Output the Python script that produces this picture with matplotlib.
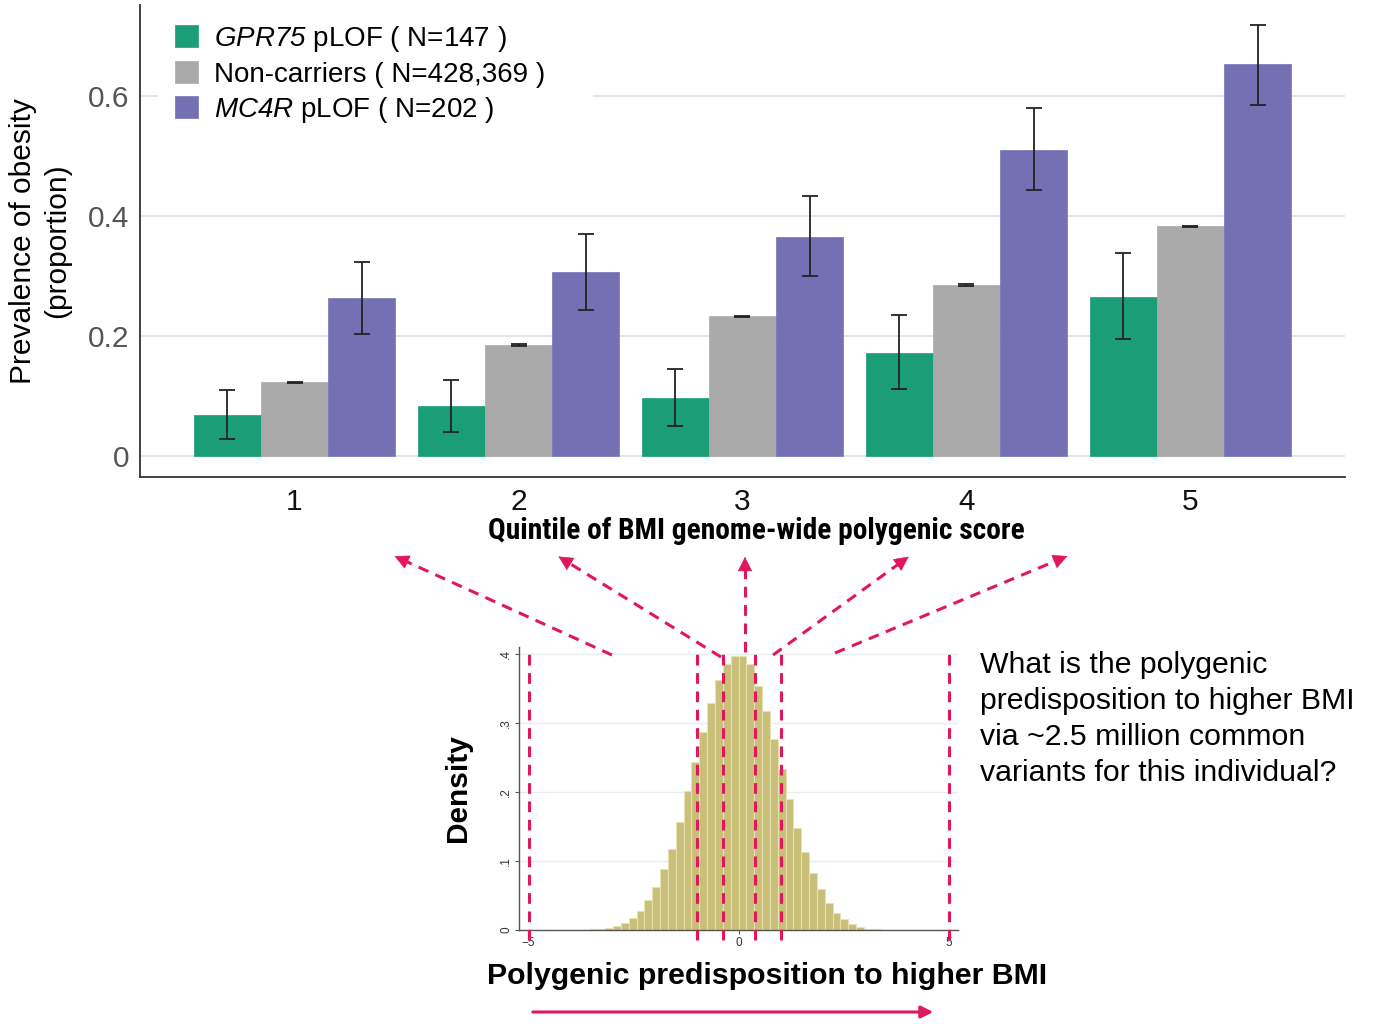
import numpy as np
import matplotlib
matplotlib.use("Agg")
import matplotlib.pyplot as plt
from matplotlib import font_manager
from matplotlib.font_manager import FontProperties
from matplotlib.lines import Line2D
from matplotlib.patches import FancyArrowPatch, Rectangle

plt.rcParams['font.family'] = ['Liberation Sans', 'DejaVu Sans']
plt.rcParams['mathtext.fontset'] = 'custom'
plt.rcParams['mathtext.rm'] = 'Liberation Sans'
# sf slot used for italic gene names so digits stay italic too
plt.rcParams['mathtext.sf'] = 'Liberation Sans:italic'

# quintile bar chart data
quintiles = [1, 2, 3, 4, 5]
gpr75 = [0.068, 0.083, 0.097, 0.172, 0.265]
gpr75_lo = [0.028, 0.040, 0.050, 0.112, 0.195]
gpr75_hi = [0.110, 0.127, 0.145, 0.235, 0.338]
noncarrier = [0.123, 0.185, 0.233, 0.285, 0.383]
noncarrier_lo = [0.122, 0.184, 0.232, 0.284, 0.382]
noncarrier_hi = [0.124, 0.186, 0.234, 0.286, 0.384]
mc4r = [0.263, 0.307, 0.365, 0.510, 0.653]
mc4r_lo = [0.203, 0.243, 0.300, 0.443, 0.585]
mc4r_hi = [0.323, 0.370, 0.433, 0.580, 0.718]
series_labels = [r"$\mathsf{GPR75}$ pLOF ( N=147 )",
                 "Non-carriers ( N=428,369 )",
                 r"$\mathsf{MC4R}$ pLOF ( N=202 )"]
series_colors = ["#1b9e77", "#aaaaaa", "#7570b3"]

# PRS histogram (density per bin)
bin_width = 0.186
first_edge = -19 * 0.186
density = [0.001, 0.0019, 0.0034, 0.0058, 0.0097, 0.017, 0.028, 0.043, 0.063,
           0.089, 0.118, 0.157, 0.202, 0.244, 0.287, 0.329, 0.362, 0.385, 0.397,
           0.397, 0.386, 0.353, 0.318, 0.277, 0.233, 0.190, 0.148, 0.113, 0.082,
           0.060, 0.039, 0.025, 0.016, 0.0092, 0.0048, 0.0019, 0.001, 0.0005]
cut_lines = [-4.98, -0.99, -0.37, 0.40, 1.01, 5.0]

W, H = 1373, 1024
fig = plt.figure(figsize=(W / 100, H / 100), dpi=100)


def fx(px):
    return px / W


def fy(py):
    return 1 - py / H


def narrow_bold():
    # look for a condensed/narrow bold face among installed fonts
    files = [f for f in font_manager.fontManager.ttflist]
    prefs = ['LiberationSansNarrow-Bold', 'ArialNarrow', 'RobotoCondensed-Bold',
             'OpenSans_Condensed-Bold', 'OpenSansCondensed-Bold',
             'NotoSans-CondensedBold', 'DejaVuSansCondensed-Bold']
    for p in prefs:
        for f in files:
            if p.lower() in f.fname.lower().replace(' ', ''):
                return FontProperties(fname=f.fname)
    for f in files:
        n = f.fname.lower()
        if ('condensed' in n or 'narrow' in n) and 'bold' in n and 'extra' not in n \
                and 'semi' not in n and 'italic' not in n:
            return FontProperties(fname=f.fname)
    return FontProperties(family='Liberation Sans', weight='bold')


# ---- top bar chart ----
ax = fig.add_axes([fx(140), fy(477), fx(1345) - fx(140), fy(5) - fy(477)])
x = np.array(quintiles, dtype=float)
bw = 0.3
groups = [(gpr75, gpr75_lo, gpr75_hi), (noncarrier, noncarrier_lo, noncarrier_hi),
          (mc4r, mc4r_lo, mc4r_hi)]
handles = []
for i, (vals, lo, hi) in enumerate(groups):
    xs = x + (i - 1) * bw
    vals = np.array(vals)
    yerr = [vals - np.array(lo), np.array(hi) - vals]
    b = ax.bar(xs, vals, width=bw, color=series_colors[i], edgecolor=series_colors[i],
               linewidth=0.5, zorder=2, label=series_labels[i])
    ax.errorbar(xs, vals, yerr=yerr, fmt='none', ecolor='#222222', elinewidth=1.3,
                capsize=5.5, capthick=1.3, zorder=3)
    handles.append(b)

ax.set_xlim(0.31, 5.69)
ax.set_ylim(-0.035, 0.752)
ax.set_yticks([0, 0.2, 0.4, 0.6])
ax.set_yticklabels(["0", "0.2", "0.4", "0.6"])
ax.set_xticks(quintiles)
ax.tick_params(axis='y', length=0, labelsize=21.5, labelcolor='#555555', pad=8)
ax.tick_params(axis='x', length=0, labelsize=21.5, labelcolor='#111111', pad=8)
ax.yaxis.grid(True, color='#e0e0e0', linewidth=1.2, zorder=0)
ax.set_axisbelow(True)
for s in ['top', 'right']:
    ax.spines[s].set_visible(False)
for s in ['left', 'bottom']:
    ax.spines[s].set_color('#333333')
    ax.spines[s].set_linewidth(1.3)
ax.set_ylabel("Prevalence of obesity\n(proportion)", fontsize=21.5, labelpad=12,
              linespacing=1.25)

xl_fp = narrow_bold()
xl_fp.set_size(21.5)
xl = fig.text(fx(756), fy(531), "Quintile of BMI genome-wide polygenic score",
              fontproperties=xl_fp, ha='center', va='center')
# fit label to its width in the reference
r = fig.canvas.get_renderer()
wpx = xl.get_window_extent(r).width
xl_fp.set_size(21.5 * 537 / wpx)
xl.set_fontproperties(xl_fp)

# white backing behind the legend that hides the 0.6 gridline
ax.add_artist(Rectangle((fx(158), fy(120)), fx(593) - fx(158), fy(10) - fy(120),
                        transform=fig.transFigure, facecolor='white',
                        edgecolor='none', zorder=4))
leg = ax.legend(handles=handles, loc='upper left', bbox_to_anchor=(fx(169), fy(18)),
                bbox_transform=fig.transFigure, fontsize=20, frameon=True,
                fancybox=False, edgecolor='white', framealpha=1.0,
                handlelength=0.86, handleheight=0.86, handletextpad=0.55,
                labelspacing=0.26, borderpad=0.2, borderaxespad=0)
leg.set_zorder(5)

# ---- bottom histogram ----
hx = fig.add_axes([fx(519), fy(930), fx(958) - fx(519), fy(647) - fy(930)])
centers = first_edge + bin_width * (np.arange(len(density)) + 0.5)
hx.bar(centers, density, width=bin_width, color='#c9bf78', edgecolor='#e6e2b4',
       linewidth=0.8, zorder=2)
hx.set_xlim(-5.21, 5.21)
hx.set_ylim(0, 0.41)
hx.set_yticks([0, 0.1, 0.2, 0.3, 0.4])
hx.set_yticklabels(["0", ".1", ".2", ".3", ".4"], rotation=90, va='center')
hx.set_xticks([-5, 0, 5])
hx.tick_params(labelsize=8.5, color='#555555', labelcolor='#333333', length=3,
               width=0.8, pad=2)
hx.yaxis.grid(True, color='#e6eef0', linewidth=1.0, zorder=0)
hx.set_axisbelow(True)
for s in ['top', 'right']:
    hx.spines[s].set_visible(False)
for s in ['left', 'bottom']:
    hx.spines[s].set_color('#555555')
    hx.spines[s].set_linewidth(1.0)
red = '#e0185a'
for c in cut_lines:
    hx.plot([c, c], [-0.015, 0.4], color=red, linestyle=(0, (3.5, 2.5)),
            linewidth=2.2, clip_on=False, zorder=4)
hx.set_ylabel("Density", fontsize=21.5, fontweight='bold', labelpad=20)

# dashed arrows from histogram to quintile axis
arrow_tails = [(612, 655), (721, 657), (745, 652), (773, 655), (835, 653)]
arrow_heads = [(392, 555), (556, 555), (745, 554), (911, 555), (1070, 555)]
for (tx, ty), (hx_, hy) in zip(arrow_tails, arrow_heads):
    dx, dy = hx_ - tx, hy - ty
    L = np.hypot(dx, dy)
    ux, uy = dx / L, dy / L
    fig.add_artist(Line2D([fx(tx), fx(hx_ - ux * 8)], [fy(ty), fy(hy - uy * 8)],
                          color=red, linestyle=(0, (3.5, 2.5)), linewidth=2.2,
                          transform=fig.transFigure))
    fig.add_artist(FancyArrowPatch((fx(hx_ - ux * 12), fy(hy - uy * 12)), (fx(hx_), fy(hy)),
                                   arrowstyle='-|>', mutation_scale=24, color=red,
                                   linewidth=0.5, transform=fig.transFigure))

fig.text(fx(767), fy(976), "Polygenic predisposition to higher BMI", fontsize=21.8,
         fontweight='bold', ha='center', va='center')
fig.add_artist(FancyArrowPatch((fx(530), fy(1012)), (fx(936), fy(1012)),
                               arrowstyle='-|>', mutation_scale=18, color=red,
                               linewidth=2.2, transform=fig.transFigure))

fig.text(fx(980), fy(651), "What is the polygenic\npredisposition to higher BMI\n"
         "via ~2.5 million common\nvariants for this individual?",
         fontsize=21.8, ha='left', va='top', linespacing=1.36)

fig.savefig("out.png", dpi=100)
